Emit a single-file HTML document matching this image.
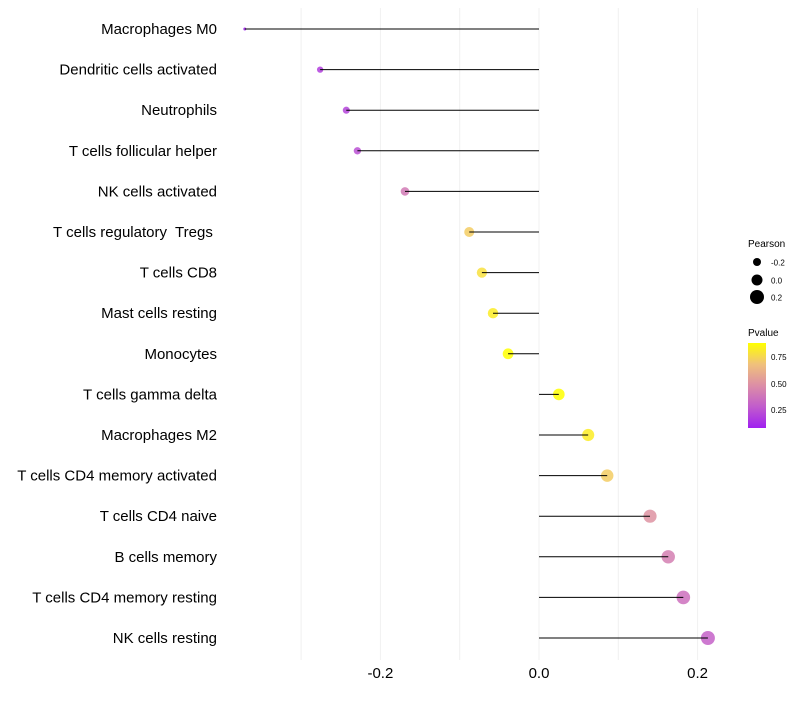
<!DOCTYPE html>
<html><head><meta charset="utf-8"><style>
body{margin:0;background:#fff;font-family:"Liberation Sans",sans-serif}
</style></head><body>
<svg id="chart" width="800" height="700" xmlns="http://www.w3.org/2000/svg">
<g id="grid"></g>
<g id="marks"></g>
<g id="ylabels"></g>
<g id="xlabels"></g>
<g>
<text x="748" y="247" font-size="10">Pearson</text>
<circle cx="757" cy="262" r="4" fill="#000"/><text x="771" y="265.5" font-size="8">-0.2</text>
<circle cx="757" cy="280" r="5.5" fill="#000"/><text x="771" y="283.5" font-size="8">0.0</text>
<circle cx="757" cy="297" r="7" fill="#000"/><text x="771" y="300.5" font-size="8">0.2</text>
</g>
<g>
<text x="748" y="336" font-size="10">Pvalue</text>
<defs><linearGradient id="pg" x1="0" y1="1" x2="0" y2="0">
<stop offset="0" stop-color="#a020f0"/><stop offset="0.25" stop-color="#c15ccc"/><stop offset="0.5" stop-color="#dc8ea6"/><stop offset="0.75" stop-color="#f0c17c"/><stop offset="1" stop-color="#ffff00"/></linearGradient></defs>
<rect x="748" y="343" width="18" height="85" fill="url(#pg)"/>
<text x="771" y="360" font-size="8">0.75</text>
<text x="771" y="387" font-size="8">0.50</text>
<text x="771" y="413" font-size="8">0.25</text>
</g>
</svg>
<script>
const categories=["Macrophages M0","Dendritic cells activated","Neutrophils","T cells follicular helper","NK cells activated","T cells regulatory  Tregs ","T cells CD8","Mast cells resting","Monocytes","T cells gamma delta","Macrophages M2","T cells CD4 memory activated","T cells CD4 naive","B cells memory","T cells CD4 memory resting","NK cells resting"];
const pearson=[-0.371,-0.276,-0.243,-0.229,-0.169,-0.088,-0.072,-0.058,-0.039,0.025,0.062,0.086,0.140,0.163,0.182,0.213];
const pvalue=[0.08,0.18,0.2,0.24,0.4,0.72,0.78,0.82,0.88,0.95,0.82,0.72,0.5,0.42,0.36,0.3];
const xTicks=[-0.2,0.0,0.2];
const xTickLabels=["-0.2","0.0","0.2"];
const xMinor=[-0.3,-0.1,0.1];
const NS="http://www.w3.org/2000/svg";
const x=v=>539+v*793;
const y=i=>29+i*40.6;
const stops=[[160,32,240],[193,92,204],[220,142,166],[240,193,124],[255,255,0]];
function col(p){let t=Math.max(0,Math.min(1,(p-0.08)/0.8))*4;let i=Math.min(3,Math.floor(t)),f=t-i;
 const c=stops[i].map((a,k)=>Math.round(a+(stops[i+1][k]-a)*f));return `rgb(${c})`;}
function rad(v){const a=2.25+(v+0.371)/0.584*46.75;return Math.sqrt(Math.max(a,1));}
function mk(tag,attrs,parent){const e=document.createElementNS(NS,tag);for(const k in attrs)e.setAttribute(k,attrs[k]);document.getElementById(parent).appendChild(e);return e;}
xMinor.concat(xTicks).forEach(v=>{const l=mk('line',{x1:x(v),x2:x(v),y1:8,y2:660,stroke:'#f0f0f0','stroke-width':1},'grid');

});
categories.forEach((c,i)=>{
 const pt=mk('circle',{cx:x(pearson[i]),cy:y(i),r:rad(pearson[i]),fill:col(pvalue[i]),'fill-opacity':0.85},'marks');
 
 
 const seg=mk('line',{x1:x(0),x2:x(pearson[i]),y1:y(i),y2:y(i),stroke:'#000','stroke-width':1},'marks');
 
 
 const t=mk('text',{x:217,y:y(i)+5,'text-anchor':'end','font-size':15,fill:'#000'},'ylabels');
 t.style.whiteSpace='pre';
 t.textContent=c;
 
 
});
xTicks.forEach((v,i)=>{const t=mk('text',{x:x(v),y:678,'text-anchor':'middle','font-size':15},'xlabels');
t.textContent=xTickLabels[i];

});
</script>
</body></html>
